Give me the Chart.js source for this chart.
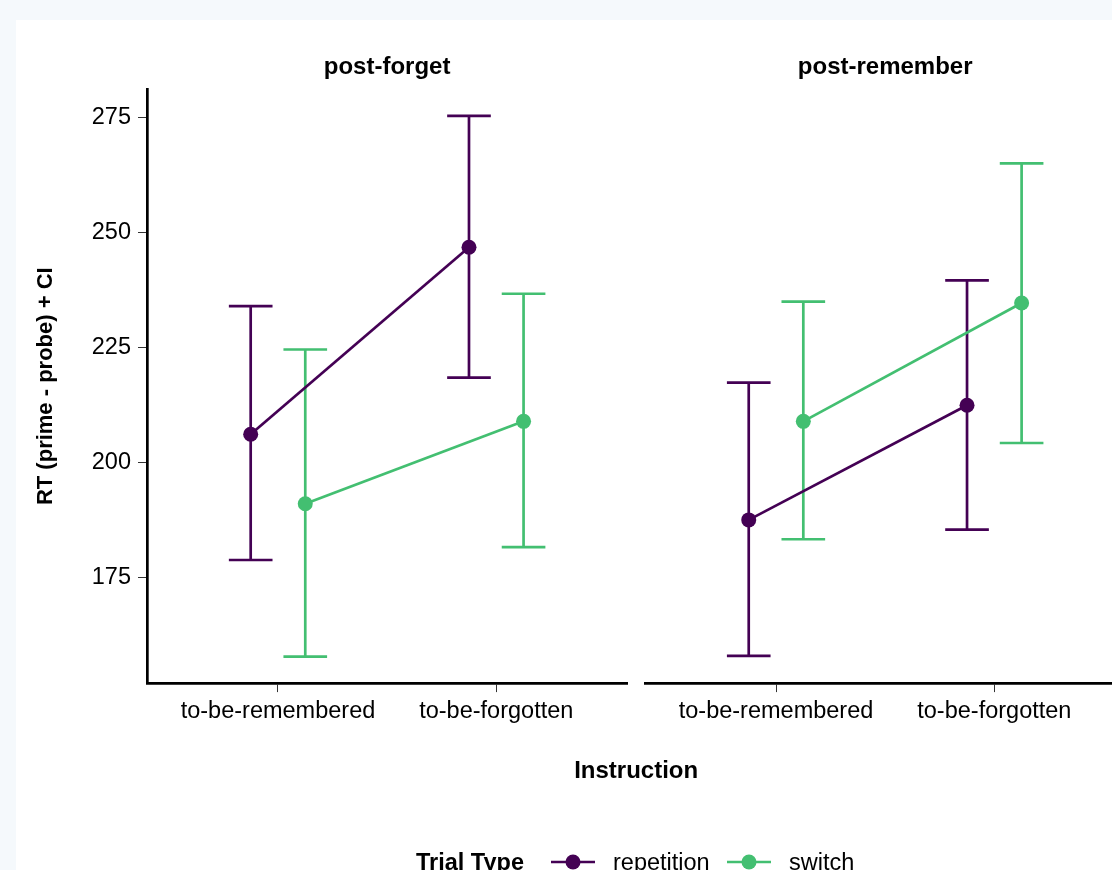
<!DOCTYPE html>
<html><head><meta charset="utf-8">
<script src="https://cdn.jsdelivr.net/npm/chart.js@4/dist/chart.umd.min.js"></script>
<style>
html,body{margin:0;padding:0;width:1112px;height:870px;overflow:hidden;background:#f5f9fc;font-family:'Liberation Sans',Arial,sans-serif;}
#panel{position:absolute;left:16px;top:20px;width:1096px;height:850px;background:#fff;overflow:hidden;}
#c{position:absolute;left:0;top:0;}
.lg{position:absolute;top:848px;height:28px;line-height:28px;font-size:23.5px;color:#000;white-space:nowrap;}
.mk{position:absolute;top:852px;}
</style></head><body>
<div id="panel"><canvas id="c" width="1120" height="860"></canvas></div>
<div class="lg" style="left:416px;font-weight:bold">Trial Type</div>
<svg class="mk" style="left:551px" width="44" height="20"><line x1="0" y1="10" x2="44" y2="10" stroke="#440154" stroke-width="2.6"/><circle cx="22" cy="10" r="7.5" fill="#440154"/></svg>
<div class="lg" style="left:613px">repetition</div>
<svg class="mk" style="left:727px" width="44" height="20"><line x1="0" y1="10" x2="44" y2="10" stroke="#43BF71" stroke-width="2.6"/><circle cx="22" cy="10" r="7.5" fill="#43BF71"/></svg>
<div class="lg" style="left:789px">switch</div>
<script>
// ---- data ----
const categories = ['to-be-remembered', 'to-be-forgotten'];
const panelTitles = ['post-forget', 'post-remember'];
const seriesNames = ['repetition', 'switch'];
const yTicks = [175, 200, 225, 250, 275];

const repForgetMean = [206.2, 246.8];
const repForgetLow = [178.9, 218.5];
const repForgetHigh = [234.0, 275.3];
const switchForgetMean = [191.1, 209.0];
const switchForgetLow = [157.9, 181.7];
const switchForgetHigh = [224.6, 236.7];

const repRememberMean = [187.6, 212.5];
const repRememberLow = [158.1, 185.5];
const repRememberHigh = [217.4, 239.6];
const switchRememberMean = [209.0, 234.7];
const switchRememberLow = [183.4, 204.3];
const switchRememberHigh = [235.0, 265.0];

// ---- styling ----
const FONT = "'Liberation Sans', Arial, sans-serif";
const colors = ['#440154', '#43BF71'];
const dodge = [-0.125, 0.125];
const capHalf = 0.1;

function meanSet(name, color, means, axis, off) {
  return {
    label: name, xAxisID: axis, yAxisID: 'y', order: 0,
    data: means.map((v, i) => ({x: i + 1 + off, y: v})),
    showLine: true, borderColor: color, backgroundColor: color, borderWidth: 2.7,
    pointRadius: 7.5, pointBorderWidth: 0, pointBackgroundColor: color, pointHoverRadius: 7.5
  };
}
function barSet(name, color, lo, hi, axis, off) {
  const d = [];
  lo.forEach((l, i) => {
    const cx = i + 1 + off;
    d.push({x: cx - capHalf, y: hi[i]}, {x: cx + capHalf, y: hi[i]}, {x: cx, y: null},
           {x: cx, y: hi[i]}, {x: cx, y: l}, {x: cx, y: null},
           {x: cx - capHalf, y: l}, {x: cx + capHalf, y: l}, {x: cx, y: null});
  });
  return {
    label: name + ' CI', xAxisID: axis, yAxisID: 'y', order: 1, data: d,
    showLine: true, spanGaps: false, borderColor: color, borderWidth: 2.7, pointRadius: 0, pointHoverRadius: 0
  };
}

const datasets = [
  meanSet(seriesNames[0], colors[0], repForgetMean, 'x1', dodge[0]),
  meanSet(seriesNames[1], colors[1], switchForgetMean, 'x1', dodge[1]),
  meanSet(seriesNames[0], colors[0], repRememberMean, 'x2', dodge[0]),
  meanSet(seriesNames[1], colors[1], switchRememberMean, 'x2', dodge[1]),
  barSet(seriesNames[0], colors[0], repForgetLow, repForgetHigh, 'x1', dodge[0]),
  barSet(seriesNames[1], colors[1], switchForgetLow, switchForgetHigh, 'x1', dodge[1]),
  barSet(seriesNames[0], colors[0], repRememberLow, repRememberHigh, 'x2', dodge[0]),
  barSet(seriesNames[1], colors[1], switchRememberLow, switchRememberHigh, 'x2', dodge[1])
];

const panelW = 480.5, gapW = 17.8;
function catAxis() {
  return {
    type: 'linear', position: 'bottom', stack: 'bottom', stackWeight: panelW,
    min: 0.4, max: 2.6,
    afterBuildTicks: a => { a.ticks = categories.map((c, i) => ({value: i + 1})); },
    ticks: {callback: (v, i) => categories[i], autoSkip: false, maxRotation: 0, minRotation: 0,
            padding: 5, color: '#000', font: {family: FONT, size: 23.5}},
    grid: {drawOnChartArea: false, drawTicks: true, tickLength: 9, color: '#333', lineWidth: 1},
    border: {display: true, color: '#000', width: 2.7}
  };
}
function blankAxis(pos, stack, weight, w, title) {
  return {
    type: 'linear', position: pos, stack: stack, stackWeight: weight, weight: w, min: 0, max: 1,
    ticks: {display: false}, grid: {display: false, drawTicks: false}, border: {display: false},
    title: title ? {display: true, text: title, color: '#000', font: {family: FONT, size: 24, weight: 'bold'},
                    padding: {top: 33.2, bottom: 7.3}} : {display: false}
  };
}

new Chart(document.getElementById('c'), {
  type: 'scatter',
  data: {datasets},
  options: {
    responsive: false, animation: false, devicePixelRatio: 1,
    events: [],
    layout: {padding: {left: 0, top: 0, right: 10.2, bottom: 0}},
    plugins: {
      legend: {display: false}, tooltip: {enabled: false},
      title: {display: true, text: 'Instruction', position: 'bottom', fullSize: false, color: '#000',
              font: {family: FONT, size: 24, weight: 'bold'}, padding: {top: 26.6, bottom: 94.3}}
    },
    scales: {
      y: {
        type: 'linear', position: 'left', min: 152.17, max: 281.09,
        afterBuildTicks: a => { a.ticks = yTicks.map(v => ({value: v})); },
        afterFit: a => { a.width = 131; },
        ticks: {color: '#000', padding: 7, font: {family: FONT, size: 23.5}},
        grid: {drawOnChartArea: false, drawTicks: true, tickLength: 9, color: '#333', lineWidth: 1},
        border: {display: true, color: '#000', width: 2.7},
        title: {display: true, text: 'RT (prime - probe) + CI', color: '#000',
                font: {family: FONT, size: 22, weight: 'bold'}, padding: {top: 16.8, bottom: 0}}
      },
      x1: catAxis(),
      xg: blankAxis('bottom', 'bottom', gapW, 0, null),
      x2: catAxis(),
      t1: blankAxis('top', 'top', panelW, 3, panelTitles[0]),
      tg: blankAxis('top', 'top', gapW, 2, null),
      t2: blankAxis('top', 'top', panelW, 1, panelTitles[1])
    }
  }
});
</script>
</body></html>
